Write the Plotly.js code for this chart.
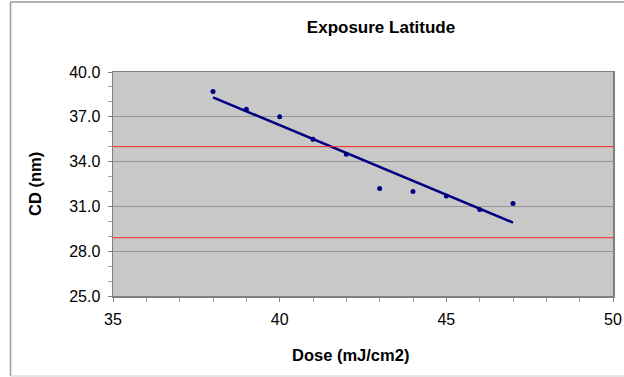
<!DOCTYPE html>
<html>
<head>
<meta charset="utf-8">
<script src="https://cdn.plot.ly/plotly-3.0.1.min.js"></script>
<style>html,body{margin:0;padding:0;background:#fff;}#chart{width:624px;height:377px;}</style>
</head>
<body>
<div id="chart"></div>
<script>
// Data
const dose = [38, 39, 40, 41, 42, 43, 44, 45, 46, 47];
const cd = [38.7, 37.5, 37.0, 35.5, 34.5, 32.2, 32.0, 31.7, 30.8, 31.2];
const specLimits = [35.0, 28.9];
const xTicks = [35, 40, 45, 50];
const yTicks = [25, 28, 31, 34, 37, 40];
const yTickLabels = ['25.0', '28.0', '31.0', '34.0', '37.0', '40.0'];

// Linear least-squares trendline derived from the data
const n = dose.length;
const mx = dose.reduce((a, b) => a + b, 0) / n;
const my = cd.reduce((a, b) => a + b, 0) / n;
let sxy = 0, sxx = 0;
for (let i = 0; i < n; i++) { sxy += (dose[i] - mx) * (cd[i] - my); sxx += (dose[i] - mx) ** 2; }
const slope = sxy / sxx, icpt = my - slope * mx;
const xFit = [Math.min(...dose), Math.max(...dose)];
const yFit = xFit.map(x => icpt + slope * x);

const font = 'Liberation Sans, Arial, sans-serif';
const traces = [
  {x: xFit, y: yFit, mode: 'lines', line: {color: '#000080', width: 2.5}, hoverinfo: 'skip'},
  {x: dose, y: cd, mode: 'markers', marker: {color: '#000080', size: 5}}
];

const shapes = specLimits.map(v => ({type: 'line', xref: 'paper', x0: 0, x1: 1, yref: 'y', y0: v, y1: v,
  line: {color: '#ff2020', width: 1}, layer: 'above'}));
// outer chart border (Excel-like frame)
shapes.push({type: 'line', xref: 'paper', yref: 'paper', x0: -0.205, x1: -0.205, y0: -0.357, y1: 1.3125, line: {color: '#999999', width: 1.5}});
shapes.push({type: 'line', xref: 'paper', yref: 'paper', x0: -0.205, x1: 1.03, y0: 1.3125, y1: 1.3125, line: {color: '#999999', width: 1.5}});
shapes.push({type: 'line', xref: 'paper', yref: 'paper', x0: -0.205, x1: 1.03, y0: -0.357, y1: -0.357, line: {color: '#dddddd', width: 1.5}});

const layout = {
  width: 624, height: 377,
  margin: {l: 113, r: 11, t: 72, b: 81},
  paper_bgcolor: '#ffffff', plot_bgcolor: '#c8c8c8',
  showlegend: false,
  font: {family: font, color: '#000', size: 16},
  title: {text: '<b>Exposure Latitude</b>', font: {family: font, size: 17, color: '#000'},
    xref: 'container', yref: 'container', x: 381 / 624, y: 1 - 27 / 377, xanchor: 'center', yanchor: 'middle'},
  xaxis: {range: [35, 50], tickvals: xTicks, ticktext: xTicks.map(String), showgrid: false, zeroline: false,
    showline: true, linecolor: '#808080', linewidth: 1.5, mirror: true,
    ticks: 'outside', ticklen: 4, tickcolor: '#808080', tickwidth: 1,
    minor: {dtick: 1, ticks: 'outside', ticklen: 4, tickcolor: '#a0a0a0', showgrid: false},
    tickfont: {family: font, size: 16}, ticklabelstandoff: 4, fixedrange: true},
  yaxis: {range: [25, 40], tickvals: yTicks, ticktext: yTickLabels, showgrid: true, gridcolor: '#959595', gridwidth: 1,
    zeroline: false, showline: true, linecolor: '#808080', linewidth: 1.5, mirror: true,
    ticks: 'outside', ticklen: 4, tickcolor: '#808080', tickwidth: 1,
    minor: {dtick: 1, ticks: 'outside', ticklen: 4, tickcolor: '#a0a0a0', showgrid: false},
    tickfont: {family: font, size: 16}, ticklabelstandoff: 4, fixedrange: true},
  shapes: shapes,
  annotations: [
    {text: '<b>CD (nm)</b>', xref: 'paper', yref: 'paper', x: (35 - 113) / 500, y: 0.5, xanchor: 'center', yanchor: 'middle',
      textangle: -90, showarrow: false, font: {family: font, size: 16.5, color: '#000'}},
    {text: '<b>Dose (mJ/cm2)</b>', xref: 'paper', yref: 'paper', x: (350 - 113) / 500, y: (296 - 355) / 224, xanchor: 'center', yanchor: 'middle',
      showarrow: false, font: {family: font, size: 16.5, color: '#000'}}
  ]
};
Plotly.newPlot('chart', traces, layout, {displayModeBar: false, staticPlot: true});
</script>
</body>
</html>
